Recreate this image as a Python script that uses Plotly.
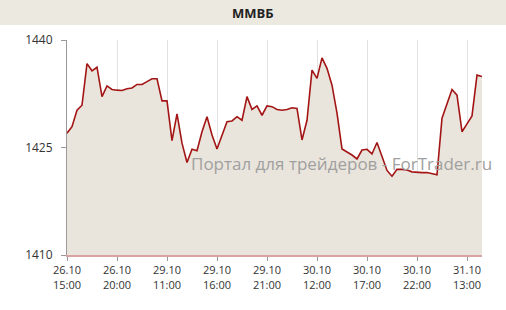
import plotly.graph_objects as go

values = [1427.0, 1427.9, 1430.2, 1430.9, 1436.7, 1435.7, 1436.2, 1432.1, 1433.6, 1433.1,
          1433.0, 1432.95, 1433.2, 1433.3, 1433.8, 1433.8, 1434.2, 1434.6, 1434.6, 1431.5,
          1431.5, 1425.95, 1429.7, 1425.6, 1422.9, 1424.75, 1424.55, 1427.2, 1429.3, 1426.75,
          1424.8, 1426.75, 1428.6, 1428.7, 1429.3, 1428.8, 1432.1, 1430.3, 1430.8, 1429.5,
          1430.8, 1430.7, 1430.3, 1430.2, 1430.3, 1430.55, 1430.45, 1426.05, 1428.8, 1435.8,
          1434.65, 1437.5, 1436.05, 1433.7, 1429.8, 1424.8, 1424.4, 1423.95, 1423.4, 1424.65,
          1424.75, 1424.1, 1425.7, 1423.7, 1421.8, 1421.0, 1421.95, 1421.95, 1421.85, 1421.6,
          1421.5, 1421.5, 1421.5, 1421.4, 1421.2, 1429.1, 1431.1, 1433.1, 1432.3, 1427.2,
          1428.3, 1429.4, 1435.1, 1434.9]
x_idx = list(range(len(values)))
tick_positions = [0, 10, 20, 30, 40, 50, 60, 70, 80]
tick_labels = ["26.10<br>15:00", "26.10<br>20:00", "29.10<br>11:00", "29.10<br>16:00",
               "29.10<br>21:00", "30.10<br>12:00", "30.10<br>17:00", "30.10<br>22:00",
               "31.10<br>13:00"]
y_ticks = [1410, 1425, 1440]
title_text = "ММВБ"
watermark = "Портал для трейдеров - ForTrader.ru"

W, H = 506, 310
ml, mr, mt, mb = 67, 24, 40, 55
pw, ph = W - ml - mr, H - mt - mb

fig = go.Figure()
fig.add_trace(go.Scatter(
    x=x_idx, y=values, mode="lines", fill="tozeroy",
    fillcolor="#EAE5DC", line=dict(color="#A31515", width=1.6),
    hoverinfo="skip"))

fig.add_shape(type="rect", xref="paper", yref="paper",
              x0=-ml / pw, x1=1 + mr / pw, y0=1 + 15 / ph, y1=1 + mt / ph,
              fillcolor="#ECE9E1", line=dict(width=0), layer="below")

fig.add_annotation(text="<b>" + title_text + "</b>", xref="paper", yref="paper",
                   x=(253 - ml) / pw, y=1 + 27.5 / ph, xanchor="center", yanchor="middle",
                   showarrow=False, font=dict(family="Open Sans", size=13, color="#222222"))

fig.add_annotation(text=watermark, xref="paper", yref="paper",
                   x=(189 - ml) / pw, y=(255 - 163) / ph, xanchor="left", yanchor="middle",
                   showarrow=False, font=dict(family="Open Sans", size=17, color="#A0A0A0"))

fig.update_layout(
    width=W, height=H,
    margin=dict(l=ml, r=mr, t=mt, b=mb),
    paper_bgcolor="white", plot_bgcolor="white",
    showlegend=False,
    font=dict(family="Open Sans", size=11, color="#333333"),
    xaxis=dict(range=[0, len(values) - 1], tickmode="array", tickvals=tick_positions,
               ticktext=tick_labels, showgrid=True, gridcolor="#E2E2E2", gridwidth=1,
               showline=True, linecolor="#D9A3A3", linewidth=2,
               ticks="outside", ticklen=4, tickcolor="#999999",
               zeroline=False, tickfont=dict(size=11)),
    yaxis=dict(range=[1410, 1440], tickmode="array", tickvals=y_ticks,
               showgrid=False, showline=True, linecolor="#999999", linewidth=1,
               ticks="outside", ticklen=5, tickcolor="#999999", zeroline=False,
               ticklabelstandoff=6, tickfont=dict(size=12)),
)

fig.write_html("out.html")
